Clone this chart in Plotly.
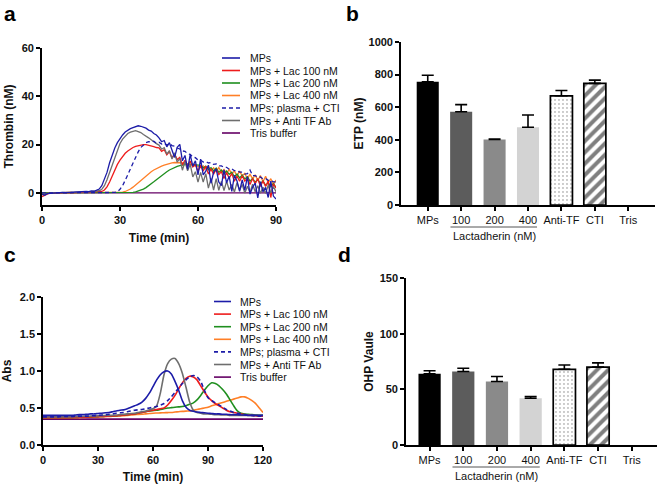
import plotly.graph_objects as go

# ---------------- Panel a: thrombin generation (nM) vs time (min) ----------------
TIME_A = [0, 1, 2, 3, 4, 5, 6, 7, 8, 9, 10, 11, 12, 13, 14, 15, 16, 17, 18, 19,
          20, 21, 22, 23, 24, 25, 26, 27, 28, 29, 30, 31, 32, 33, 34, 35, 36, 37, 38, 39,
          40, 41, 42, 43, 44, 45, 46, 47, 48, 49, 50, 51, 52, 53, 54, 55, 56, 57, 58, 59,
          60, 61, 62, 63, 64, 65, 66, 67, 68, 69, 70, 71, 72, 73, 74, 75, 76, 77, 78, 79,
          80, 81, 82, 83, 84, 85, 86, 87, 88, 89, 90]

A_MPS = [-0.5, -1.0, -0.3, -0.2, 0.0, 0.0, 0.1, 0.0, 0.2, 0.1, 0.3, 0.2, 0.3, 0.4, 0.3, 0.5, 0.4, 0.6, 0.5, 0.8,
         0.7, 1.0, 1.6, 3.0, 5.5, 8.5, 12.5, 15.8, 18.6, 20.8, 22.6, 24.0, 25.2, 26.0, 26.6, 27.0, 27.4, 27.8, 27.6, 27.2,
         26.8, 26.0, 25.6, 24.6, 24.0, 22.8, 21.2, 21.7, 19.1, 20.8, 17.5, 14.7, 18.9, 20.1, 13.3, 15.5, 9.7, 15.9, 11.1, 13.3,
         7.5, 14.0, 7.5, 9.0, 11.5, 4.0, 8.5, 10.0, 4.5, 3.0, 9.5, 4.2, 6.9, 0.6, 7.3, 5.0, 0.7, 5.4, 1.1, 6.8,
         -0.5, 2.3, 4.1, -2.1, 4.7, 0.5, 2.3, -1.9, 4.9, -1.3, -2.5]

A_LAC100 = [-1.5, -1.0, -0.5, 0.0, 0.1, 0.0, 0.1, 0.0, 0.1, 0.2, 0.1, 0.2, 0.1, 0.2, 0.3, 0.2, 0.3, 0.2, 0.3, 0.4,
            0.3, 0.4, 0.5, 0.6, 1.2, 2.5, 4.5, 7.0, 9.5, 11.8, 13.6, 15.2, 16.4, 17.4, 18.2, 18.8, 19.3, 19.6, 19.8, 20.0,
            20.0, 19.8, 19.6, 19.2, 18.8, 18.7, 17.2, 17.9, 15.8, 17.1, 14.5, 16.1, 13.8, 14.7, 11.6, 13.5, 11.1, 13.2, 10.8, 11.7,
            9.0, 11.4, 9.1, 11.1, 7.8, 10.0, 7.7, 9.9, 7.6, 8.8, 6.0, 8.4, 6.1, 8.1, 4.8, 7.0, 4.8, 7.1, 4.9, 6.2,
            3.5, 6.0, 3.8, 5.9, 2.7, 5.0, 2.7, 4.9, -1.9, 3.8, 2.0]

A_LAC200 = [0.0, 0.0, 0.1, 0.0, 0.0, 0.1, 0.0, 0.0, 0.1, 0.0, 0.0, 0.1, 0.0, 0.0, 0.1, 0.0, 0.0, 0.1, 0.0, 0.0,
            0.1, 0.0, 0.0, 0.1, 0.0, 0.0, 0.1, 0.0, 0.0, 0.1, 0.0, 0.0, 0.1, 0.0, 0.1, 0.2, 0.4, 0.7, 1.1, 1.6,
            2.2, 2.9, 3.7, 4.6, 5.5, 6.4, 7.3, 8.1, 8.8, 9.5, 10.1, 10.6, 11.0, 11.3, 11.6, 11.8, 11.9, 11.9, 11.8, 11.6,
            11.3, 11.4, 10.3, 11.1, 9.6, 10.5, 9.1, 10.3, 8.5, 9.5, 7.9, 9.1, 7.7, 8.6, 6.7, 7.8, 6.2, 7.4, 5.8, 6.7,
            4.9, 6.0, 4.4, 5.6, 3.9, 4.9, 3.1, 4.2, 2.6, 3.9, 2.3]

A_LAC400 = [0.0, 0.1, 0.0, 0.0, 0.1, 0.0, 0.0, 0.1, 0.0, 0.0, 0.1, 0.0, 0.0, 0.1, 0.0, 0.0, 0.1, 0.0, 0.0, 0.1,
            0.0, 0.0, 0.1, 0.0, 0.0, 0.1, 0.0, 0.0, 0.1, 0.1, 0.2, 0.3, 0.6, 1.0, 1.6, 2.4, 3.3, 4.3, 5.3, 6.3,
            7.2, 8.0, 8.8, 9.5, 10.1, 10.6, 11.1, 11.5, 11.9, 12.2, 12.4, 12.6, 12.6, 12.5, 12.4, 12.2, 12.0, 11.8, 11.5, 11.2,
            11.0, 10.4, 11.2, 9.9, 11.0, 9.2, 10.4, 8.8, 10.5, 8.7, 9.7, 8.0, 9.7, 7.9, 9.1, 7.0, 9.0, 7.0, 8.1, 5.8,
            7.8, 5.8, 7.5, 5.1, 7.2, 4.6, 6.9, 4.2, 5.9, 3.5, 5.3]

A_CTI = [0.0, 0.0, 0.0, 0.1, 0.0, 0.0, 0.0, 0.1, 0.0, 0.0, 0.0, 0.1, 0.0, 0.0, 0.0, 0.1, 0.0, 0.0, 0.0, 0.1,
         0.0, 0.0, 0.0, 0.1, 0.0, 0.0, 0.1, 0.1, 0.2, 0.5, 1.5, 3.0, 5.0, 7.5, 10.0, 12.5, 15.0, 17.0, 18.8, 20.0,
         20.8, 21.2, 21.0, 21.4, 20.6, 21.0, 20.2, 20.6, 19.8, 20.4, 19.6, 19.4, 18.6, 18.2, 17.4, 17.2, 16.2, 16.0, 14.8, 14.6,
         13.6, 13.6, 12.8, 13.0, 12.4, 12.6, 11.8, 12.0, 11.2, 11.2, 10.6, 10.6, 9.8, 10.0, 9.2, 9.2, 8.6, 8.6, 7.8, 8.0,
         9.5, 7.2, 7.2, 6.4, 6.6, 5.8, 6.0, 5.2, 5.2, 4.6, 4.6]

A_ANTITF = [-0.4, -0.6, -0.2, 0.0, 0.1, 0.0, 0.1, 0.2, 0.1, 0.2, 0.2, 0.3, 0.2, 0.3, 0.3, 0.4, 0.3, 0.5, 0.4, 0.6,
            0.5, 0.7, 0.9, 1.5, 3.0, 5.5, 8.5, 12.0, 15.0, 18.0, 20.5, 22.3, 23.6, 24.6, 25.2, 25.6, 25.8, 25.4, 25.0, 24.2,
            23.6, 22.8, 22.0, 21.0, 20.4, 19.8, 18.1, 18.7, 16.1, 17.5, 14.0, 16.6, 12.7, 14.3, 9.4, 13.0, 9.2, 11.9, 6.6, 8.8,
            4.5, 8.5, 4.5, 8.0, 2.0, 6.0, 1.2, 5.9, 1.1, 4.8, 1.0, 4.8, 1.2, 3.5, 0.4, 4.2, 1.1, 3.5, -0.1, 2.8,
            0.2, 3.6, 0.5, 3.0, -0.1, 2.3, -0.2, 3.2, 0.1, 2.6, 0.5]

TIME_A_TRIS = [0, 30, 60, 90]
A_TRIS = [0.0, 0.0, 0.0, 0.0]

# ---------------- Panel c: absorbance vs time (min) ----------------
TIME_C = [0, 2, 4, 6, 8, 10, 12, 14, 16, 18, 20, 22, 24, 26, 28, 30, 32, 34, 36, 38,
          40, 42, 44, 46, 48, 50, 52, 54, 56, 58, 60, 62, 64, 66, 68, 70, 72, 74, 76, 78,
          80, 82, 84, 86, 88, 90, 92, 94, 96, 98, 100, 102, 104, 106, 108, 110, 112, 114, 116, 118, 120]

C_MPS = [0.40, 0.40, 0.40, 0.40, 0.40, 0.40, 0.40, 0.40, 0.40, 0.405, 0.41, 0.41, 0.415, 0.42, 0.42, 0.425, 0.43, 0.435, 0.44, 0.45,
         0.46, 0.47, 0.475, 0.49, 0.51, 0.53, 0.55, 0.58, 0.63, 0.70, 0.79, 0.88, 0.95, 0.99, 1.00, 0.96, 0.86, 0.74, 0.60, 0.51,
         0.47, 0.455, 0.445, 0.44, 0.435, 0.43, 0.425, 0.42, 0.42, 0.415, 0.415, 0.41, 0.41, 0.41, 0.405, 0.405, 0.40, 0.40, 0.40, 0.40, 0.40]

C_LAC100 = [0.37, 0.37, 0.37, 0.37, 0.37, 0.37, 0.37, 0.37, 0.37, 0.372, 0.374, 0.376, 0.378, 0.38, 0.382, 0.384, 0.386, 0.388, 0.39, 0.392,
            0.395, 0.40, 0.405, 0.41, 0.415, 0.42, 0.43, 0.44, 0.45, 0.46, 0.47, 0.48, 0.49, 0.50, 0.54, 0.60, 0.67, 0.76, 0.84, 0.90,
            0.93, 0.92, 0.88, 0.80, 0.72, 0.65, 0.60, 0.56, 0.53, 0.50, 0.47, 0.45, 0.44, 0.43, 0.42, 0.41, 0.405, 0.40, 0.395, 0.39, 0.39]

C_LAC200 = [0.37, 0.37, 0.37, 0.37, 0.37, 0.37, 0.37, 0.37, 0.37, 0.372, 0.374, 0.376, 0.378, 0.38, 0.382, 0.384, 0.386, 0.388, 0.39, 0.392,
            0.395, 0.40, 0.405, 0.41, 0.415, 0.42, 0.43, 0.44, 0.45, 0.46, 0.465, 0.47, 0.48, 0.49, 0.50, 0.505, 0.51, 0.515, 0.52, 0.53,
            0.55, 0.57, 0.61, 0.67, 0.74, 0.80, 0.84, 0.83, 0.80, 0.75, 0.69, 0.61, 0.53, 0.46, 0.43, 0.42, 0.415, 0.41, 0.405, 0.40, 0.40]

C_LAC400 = [0.37, 0.37, 0.37, 0.37, 0.37, 0.37, 0.37, 0.37, 0.37, 0.37, 0.37, 0.372, 0.374, 0.376, 0.378, 0.38, 0.382, 0.384, 0.386, 0.388,
            0.39, 0.392, 0.395, 0.40, 0.405, 0.41, 0.412, 0.415, 0.42, 0.425, 0.43, 0.432, 0.434, 0.436, 0.438, 0.44, 0.445, 0.45, 0.455, 0.458,
            0.46, 0.47, 0.48, 0.49, 0.50, 0.51, 0.53, 0.545, 0.56, 0.575, 0.59, 0.605, 0.62, 0.635, 0.65, 0.65, 0.63, 0.60, 0.56, 0.50, 0.44]

C_CTI = [0.38, 0.38, 0.38, 0.38, 0.38, 0.385, 0.385, 0.385, 0.385, 0.39, 0.39, 0.39, 0.39, 0.395, 0.395, 0.40, 0.405, 0.41, 0.415, 0.42,
         0.43, 0.435, 0.44, 0.45, 0.46, 0.47, 0.475, 0.48, 0.49, 0.50, 0.51, 0.52, 0.54, 0.56, 0.60, 0.65, 0.71, 0.77, 0.83, 0.88,
         0.92, 0.94, 0.92, 0.86, 0.74, 0.64, 0.60, 0.57, 0.54, 0.51, 0.48, 0.46, 0.44, 0.43, 0.42, 0.41, 0.405, 0.40, 0.395, 0.39, 0.39]

C_ANTITF = [0.38, 0.38, 0.38, 0.38, 0.38, 0.38, 0.38, 0.38, 0.38, 0.382, 0.384, 0.386, 0.388, 0.39, 0.392, 0.394, 0.396, 0.398, 0.40, 0.402,
            0.405, 0.41, 0.415, 0.42, 0.425, 0.43, 0.44, 0.45, 0.46, 0.475, 0.49, 0.53, 0.70, 0.95, 1.10, 1.16, 1.17, 1.10, 0.97, 0.78,
            0.58, 0.47, 0.44, 0.43, 0.42, 0.42, 0.415, 0.41, 0.41, 0.405, 0.405, 0.40, 0.40, 0.40, 0.40, 0.40, 0.40, 0.40, 0.40, 0.40, 0.40]

TIME_C_TRIS = [0, 60, 120]
C_TRIS = [0.35, 0.35, 0.35]

# ---------------- Panels b and d: bar charts ----------------
CATEGORIES = ["MPs", "100", "200", "400", "Anti-TF", "CTI", "Tris"]
ETP_VALUES = [756, 572, 402, 477, 670, 746, 0]
ETP_ERRORS = [40, 44, 3, 75, 32, 20, None]
OHP_VALUES = [64, 66, 57, 42, 68, 70, 0]
OHP_ERRORS = [2.7, 3.0, 4.5, 1.5, 3.8, 3.8, None]

SERIES_NAMES = ["MPs", "MPs + Lac 100 nM", "MPs + Lac 200 nM", "MPs + Lac 400 nM",
                "MPs; plasma + CTI", "MPs + Anti TF Ab", "Tris buffer"]

# ---------------- styling ----------------
FONT = "Liberation Sans, Arial, sans-serif"
BLUE = "#1c1ca8"
RED = "#ee1c1c"
GREEN = "#1f8f1f"
ORANGE = "#ff7f27"
GRAY = "#6e6e6e"
PURPLE = "#650065"
SERIES_COLORS = [BLUE, RED, GREEN, ORANGE, BLUE, GRAY, PURPLE]
SERIES_DASH = ["solid", "solid", "solid", "solid", "4px,3px", "solid", "solid"]
BAR_FILL = ["#000000", "#5c5c5c", "#8a8a8a", "#d3d3d3", "#ffffff", "#ffffff", "#ffffff"]
BAR_PATTERN = [None, None, None, None, ".", "/", None]

W, H = 658, 485


def px_x(p):
    return p / W


def px_y(p):
    return 1 - p / H


fig = go.Figure()

A_DATA = [(TIME_A, A_MPS), (TIME_A, A_LAC100), (TIME_A, A_LAC200), (TIME_A, A_LAC400),
          (TIME_A, A_CTI), (TIME_A, A_ANTITF), (TIME_A_TRIS, A_TRIS)]
C_DATA = [(TIME_C, C_MPS), (TIME_C, C_LAC100), (TIME_C, C_LAC200), (TIME_C, C_LAC400),
          (TIME_C, C_CTI), (TIME_C, C_ANTITF), (TIME_C_TRIS, C_TRIS)]
# draw order (back to front): Tris, Lac400, Lac200, Lac100, Anti-TF, CTI, MPs
DRAW_ORDER = [6, 3, 2, 1, 5, 4, 0]

for idx in DRAW_ORDER:
    ta, ya = A_DATA[idx]
    tc, yc = C_DATA[idx]
    fig.add_trace(go.Scatter(x=ta, y=ya, mode="lines", name=SERIES_NAMES[idx], showlegend=False,
                             line=dict(color=SERIES_COLORS[idx], width=1.3, dash=SERIES_DASH[idx]),
                             xaxis="x", yaxis="y"))
    fig.add_trace(go.Scatter(x=tc, y=yc, mode="lines", name=SERIES_NAMES[idx], showlegend=False,
                             line=dict(color=SERIES_COLORS[idx], width=1.6, dash=SERIES_DASH[idx],
                                       shape="spline", smoothing=0.6),
                             xaxis="x3", yaxis="y3"))

# bars: one trace per bar so every bar gets its own fill / pattern
for vals, errs, xa, ya in [(ETP_VALUES, ETP_ERRORS, "x2", "y2"), (OHP_VALUES, OHP_ERRORS, "x4", "y4")]:
    for i, cat in enumerate(CATEGORIES):
        marker = dict(color=BAR_FILL[i])
        if BAR_PATTERN[i] is not None:
            marker["line"] = dict(color="#000000", width=1.7)
            if BAR_PATTERN[i] == ".":
                marker["pattern"] = dict(shape=".", fgcolor="#000000", bgcolor="#ffffff",
                                         size=4, solidity=0.1)
            else:
                marker["pattern"] = dict(shape="/", fgcolor="#000000", bgcolor="#ffffff",
                                         size=8, solidity=0.5)
        else:
            marker["line"] = dict(width=0)
        bar = dict(x=[cat], y=[vals[i]], xaxis=xa, yaxis=ya, showlegend=False, width=0.66,
                   marker=marker, hoverinfo="skip")
        if errs[i] is not None:
            bar["error_y"] = dict(type="data", symmetric=False, array=[errs[i]], arrayminus=[0],
                                  color="#000000", thickness=1.6, width=6)
        fig.add_trace(go.Bar(**bar))

axis_common = dict(showline=True, linecolor="#000000", linewidth=1.6, ticks="outside",
                   ticklen=4, tickwidth=1.6, tickcolor="#000000", showgrid=False,
                   zeroline=False, automargin=False)
bold_tick = dict(family=FONT, size=11, color="#111111", weight="bold")
norm_tick = dict(family=FONT, size=11, color="#111111")
title_font = dict(family=FONT, size=12, color="#111111", weight="bold")

fig.update_layout(
    width=W, height=H, margin=dict(l=0, r=0, t=0, b=0),
    paper_bgcolor="white", plot_bgcolor="white",
    font=dict(family=FONT, color="#111111"),
    barmode="overlay", showlegend=False,
    xaxis=dict(axis_common, domain=[px_x(42), px_x(276)], anchor="y", range=[0, 90],
               tickvals=[0, 30, 60, 90], tickfont=bold_tick,
               title=dict(text="Time (min)", font=title_font, standoff=9)),
    yaxis=dict(axis_common, domain=[px_y(205), px_y(48)], anchor="x", range=[-5, 60],
               tickvals=[0, 20, 40, 60], tickfont=bold_tick,
               title=dict(text="Thrombin (nM)", font=title_font, standoff=6)),
    xaxis2=dict(axis_common, domain=[px_x(401), px_x(655)], anchor="y2", range=[-0.8, 6.8],
                type="category", categoryorder="array", categoryarray=CATEGORIES, tickfont=norm_tick),
    yaxis2=dict(axis_common, domain=[px_y(205), px_y(42)], anchor="x2", range=[0, 1000],
                tickvals=[0, 200, 400, 600, 800, 1000], tickfont=bold_tick,
                title=dict(text="ETP (nM)", font=title_font, standoff=2)),
    xaxis3=dict(axis_common, domain=[px_x(43), px_x(263)], anchor="y3", range=[0, 120],
                tickvals=[0, 30, 60, 90, 120], tickfont=bold_tick,
                title=dict(text="Time (min)", font=title_font, standoff=8)),
    yaxis3=dict(axis_common, domain=[px_y(445), px_y(297)], anchor="x3", range=[0, 2],
                tickvals=[0, 0.5, 1.0, 1.5, 2.0], tickformat=".1f", tickfont=bold_tick,
                title=dict(text="Abs", font=title_font, standoff=6)),
    xaxis4=dict(axis_common, domain=[px_x(406), px_x(657)], anchor="y4", range=[-0.7, 6.75],
                type="category", categoryorder="array", categoryarray=CATEGORIES, tickfont=norm_tick),
    yaxis4=dict(axis_common, domain=[px_y(445), px_y(278)], anchor="x4", range=[0, 150],
                tickvals=[0, 50, 100, 150], tickfont=bold_tick,
                title=dict(text="OHP Vaule", font=title_font, standoff=3)),
)

# Legends (key line + label) for panels a and c
LEGEND_LAYOUT = [  # (line x0, line x1, text x, first row y, row step) in pixels
    (222, 240, 248, 58, 12.5),
    (214, 231, 238, 301.5, 12.6),
]
for lx0, lx1, tx, ry0, step in LEGEND_LAYOUT:
    for i, name in enumerate(SERIES_NAMES):
        yy = px_y(ry0 + i * step)
        fig.add_shape(type="line", xref="paper", yref="paper", x0=px_x(lx0), x1=px_x(lx1),
                      y0=yy, y1=yy, line=dict(color=SERIES_COLORS[i], width=1.6, dash=SERIES_DASH[i]))
        fig.add_annotation(text=name, xref="paper", yref="paper", x=px_x(tx), y=yy,
                           xanchor="left", yanchor="middle", showarrow=False,
                           font=dict(family=FONT, size=10.5, color="#111111"))

# Panel letters
for letter, xp, yp in [("a", 2, 0), ("b", 344, 0), ("c", 2, 241), ("d", 336, 241)]:
    fig.add_annotation(text=letter, x=px_x(xp), y=px_y(yp), xref="paper", yref="paper",
                       xanchor="left", yanchor="top", showarrow=False,
                       font=dict(family=FONT, size=21, color="#000000", weight="bold"))

# Lactadherin group labels under bar charts
for xa, y_line, y_text in [("x2", 227, 236), ("x4", 467, 476)]:
    fig.add_shape(type="line", xref=xa, yref="paper", x0=0.68, x1=3.27,
                  y0=px_y(y_line), y1=px_y(y_line), line=dict(color="#555555", width=1))
    fig.add_annotation(text="Lactadherin (nM)", xref=xa, yref="paper", x=2, y=px_y(y_text),
                       showarrow=False, yanchor="middle",
                       font=dict(family=FONT, size=11, color="#111111"))

fig.write_html("out.html", config={"displayModeBar": False},
               post_script="document.body.style.margin='0';document.body.style.overflow='hidden';")
